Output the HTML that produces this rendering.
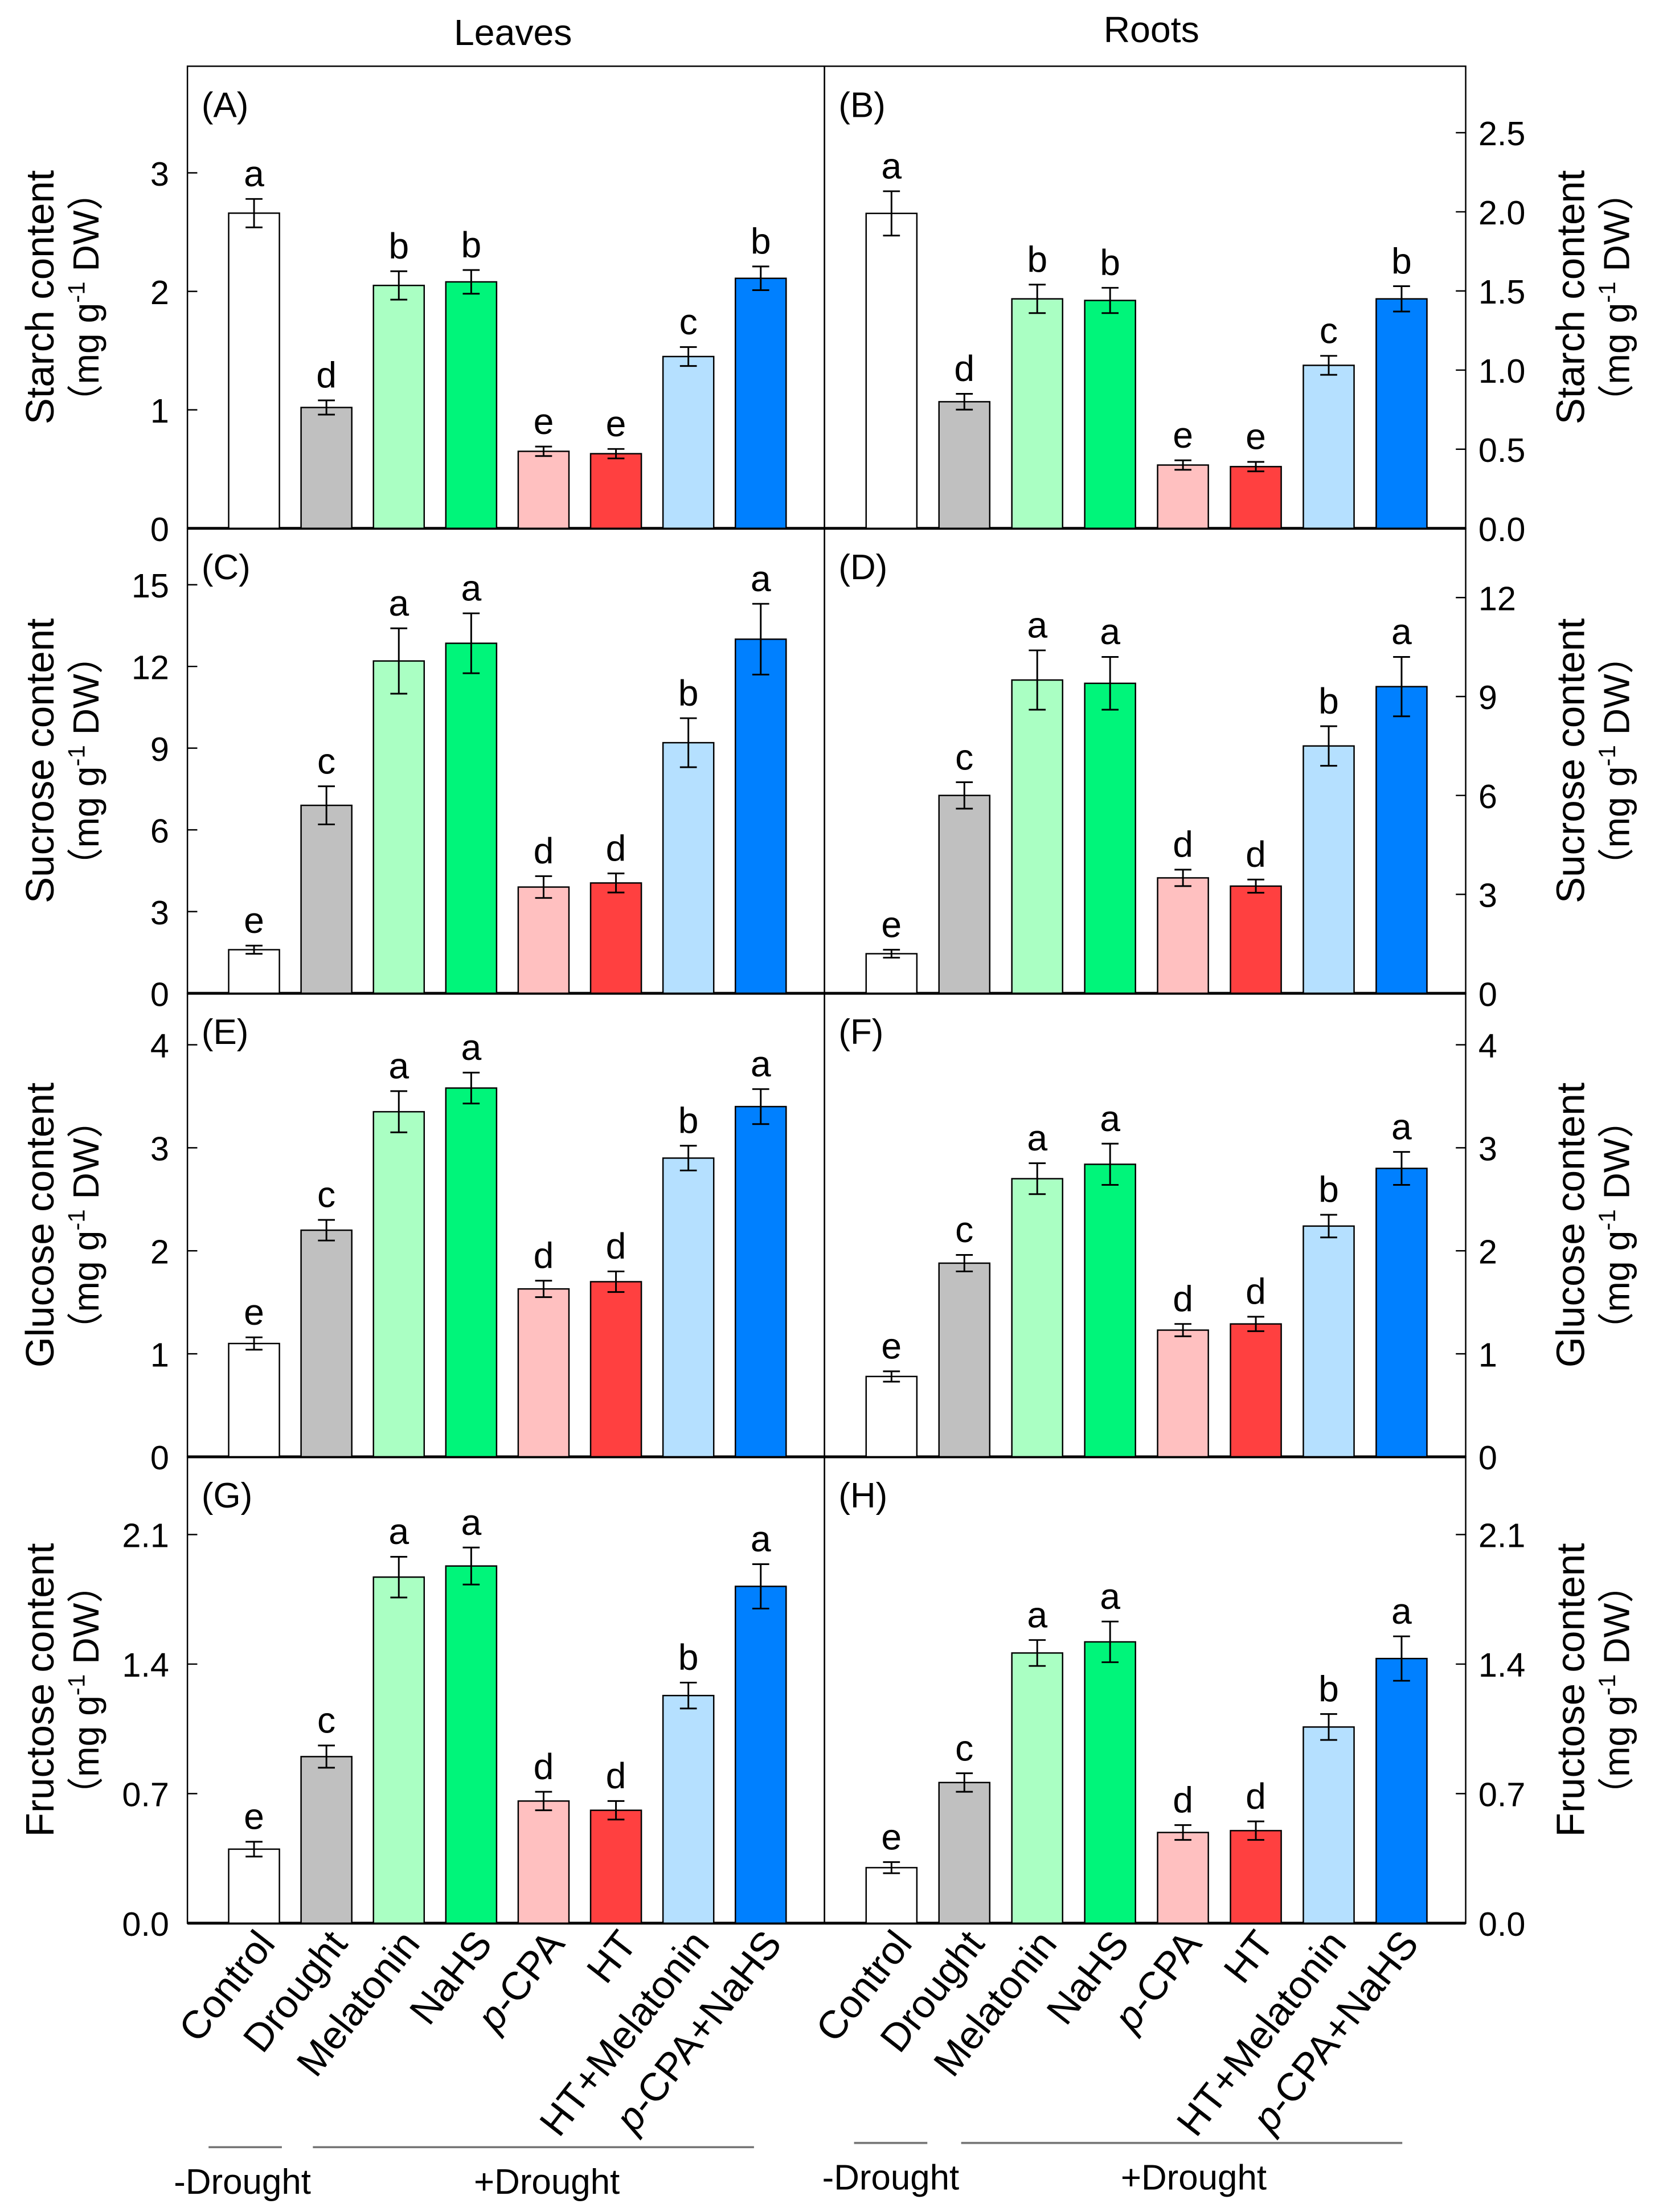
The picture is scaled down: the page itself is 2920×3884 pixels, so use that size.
<!DOCTYPE html>
<html><head><meta charset="utf-8"><style>
html,body{margin:0;padding:0;background:#fff;}
svg{display:block;font-family:"Liberation Sans","Noto Sans CJK SC",sans-serif;}
</style></head><body>
<svg id="chart" width="2920" height="3884" viewBox="0 0 1180 1570" preserveAspectRatio="none" xmlns="http://www.w3.org/2000/svg">
<g id="root"></g>
</svg>
<script>
const categories = ["Control","Drought","Melatonin","NaHS","p-CPA","HT","HT+Melatonin","p-CPA+NaHS"];
const colors = ["#ffffff","#c0c0c0","#aaffc3","#00f57a","#ffc0c0","#ff4040","#b5e0ff","#0080ff"];
const starchLeaves = [2.66,1.02,2.05,2.08,0.65,0.63,1.45,2.11];
const starchLeavesErr = [0.12,0.06,0.12,0.10,0.04,0.04,0.08,0.10];
const starchLeavesSig = ["a","d","b","b","e","e","c","b"];
const starchRoots = [1.99,0.80,1.45,1.44,0.40,0.39,1.03,1.45];
const starchRootsErr = [0.14,0.05,0.09,0.08,0.03,0.03,0.06,0.08];
const starchRootsSig = ["a","d","b","b","e","e","c","b"];
const sucroseLeaves = [1.6,6.9,12.2,12.85,3.9,4.05,9.2,13.0];
const sucroseLeavesErr = [0.15,0.7,1.2,1.1,0.4,0.35,0.9,1.3];
const sucroseLeavesSig = ["e","c","a","a","d","d","b","a"];
const sucroseRoots = [1.2,6.0,9.5,9.4,3.5,3.25,7.5,9.3];
const sucroseRootsErr = [0.12,0.4,0.9,0.8,0.25,0.2,0.6,0.9];
const sucroseRootsSig = ["e","c","a","a","d","d","b","a"];
const glucoseLeaves = [1.1,2.2,3.35,3.58,1.63,1.7,2.9,3.4];
const glucoseLeavesErr = [0.06,0.1,0.2,0.15,0.08,0.1,0.12,0.17];
const glucoseLeavesSig = ["e","c","a","a","d","d","b","a"];
const glucoseRoots = [0.78,1.88,2.7,2.84,1.23,1.29,2.24,2.8];
const glucoseRootsErr = [0.05,0.08,0.15,0.2,0.06,0.07,0.11,0.16];
const glucoseRootsSig = ["e","c","a","a","d","d","b","a"];
const fructoseLeaves = [0.4,0.9,1.87,1.93,0.66,0.61,1.23,1.82];
const fructoseLeavesErr = [0.04,0.06,0.11,0.1,0.05,0.05,0.07,0.12];
const fructoseLeavesSig = ["e","c","a","a","d","d","b","a"];
const fructoseRoots = [0.3,0.76,1.46,1.52,0.49,0.5,1.06,1.43];
const fructoseRootsErr = [0.03,0.05,0.07,0.11,0.04,0.05,0.07,0.12];
const fructoseRootsSig = ["e","c","a","a","d","d","b","a"];
const ticksStarchL = ["0","1","2","3"];
const ticksStarchR = ["0.0","0.5","1.0","1.5","2.0","2.5"];
const ticksSucroseL = ["0","3","6","9","12","15"];
const ticksSucroseR = ["0","3","6","9","12"];
const ticksGlucose = ["0","1","2","3","4"];
const ticksFructose = ["0.0","0.7","1.4","2.1"];

const NS="http://www.w3.org/2000/svg";
const root=document.getElementById('root');
function mk(tag,attrs,parent,text){const e=document.createElementNS(NS,tag);for(const k in attrs)e.setAttribute(k,attrs[k]);if(text!==undefined)e.textContent=text;(parent||root).appendChild(e);return e;}

const X0=133, XM=585, X1=1040;
const rows=[47,375,705,1034,1365];
const panels=[
 {id:"A",side:"L",row:0,vals:starchLeaves,err:starchLeavesErr,sig:starchLeavesSig,ticks:ticksStarchL,max:3.9,title:"Starch content"},
 {id:"B",side:"R",row:0,vals:starchRoots,err:starchRootsErr,sig:starchRootsSig,ticks:ticksStarchR,max:2.92,title:"Starch content"},
 {id:"C",side:"L",row:1,vals:sucroseLeaves,err:sucroseLeavesErr,sig:sucroseLeavesSig,ticks:ticksSucroseL,max:17.07,title:"Sucrose content"},
 {id:"D",side:"R",row:1,vals:sucroseRoots,err:sucroseRootsErr,sig:sucroseRootsSig,ticks:ticksSucroseR,max:14.1,title:"Sucrose content"},
 {id:"E",side:"L",row:2,vals:glucoseLeaves,err:glucoseLeavesErr,sig:glucoseLeavesSig,ticks:ticksGlucose,max:4.5,title:"Glucose content"},
 {id:"F",side:"R",row:2,vals:glucoseRoots,err:glucoseRootsErr,sig:glucoseRootsSig,ticks:ticksGlucose,max:4.5,title:"Glucose content"},
 {id:"G",side:"L",row:3,vals:fructoseLeaves,err:fructoseLeavesErr,sig:fructoseLeavesSig,ticks:ticksFructose,max:2.52,title:"Fructose content"},
 {id:"H",side:"R",row:3,vals:fructoseRoots,err:fructoseRootsErr,sig:fructoseRootsSig,ticks:ticksFructose,max:2.52,title:"Fructose content"}
];

panels.forEach(p=>{
 const top=rows[p.row], bot=rows[p.row+1];
 const left=p.side==="L"?X0:XM, right=p.side==="L"?XM:X1;
 const y=v=>bot-(v/p.max)*(bot-top);
 const step=(right-left)/8.8;
 const x=i=>left+step*(0.92+i);
 const g=mk('g',{});
 
 
 const fr=mk('rect',{x:left,y:top,width:right-left,height:bot-top,fill:'none',stroke:'#000','stroke-width':1},g);
 
 
 mk('line',{x1:left,x2:right,y1:bot,y2:bot,stroke:'#000','stroke-width':2},g);
 const pl=mk('text',{x:left+10,y:top+36,'font-size':25},g,'('+p.id+')');
 
 
 p.vals.forEach((v,i)=>{
  const bw=36;
  const r=mk('rect',{x:x(i)-bw/2,y:y(v),width:bw,height:bot-y(v),fill:colors[i],stroke:'#000','stroke-width':1},g);
  
  
  const e=p.err[i];
  const eg=mk('g',{stroke:'#000','stroke-width':1.2},g);
  
  
  mk('line',{x1:x(i),x2:x(i),y1:y(v+e),y2:y(v-e)},eg);
  mk('line',{x1:x(i)-6,x2:x(i)+6,y1:y(v+e),y2:y(v+e)},eg);
  mk('line',{x1:x(i)-6,x2:x(i)+6,y1:y(v-e),y2:y(v-e)},eg);
  const t=mk('text',{x:x(i),y:y(v+e)-9,'font-size':26,'text-anchor':'middle'},g,p.sig[i]);
  
  
 });
 p.ticks.forEach(tk=>{
  const v=parseFloat(tk), ty=y(v);
  if(p.side==="L"){
   mk('line',{x1:X0,x2:X0+7,y1:ty,y2:ty,stroke:'#000','stroke-width':1},g);
   const t=mk('text',{x:X0-13,y:ty+9,'font-size':24,'text-anchor':'end'},g,tk);
   
   
  } else {
   mk('line',{x1:X1-7,x2:X1,y1:ty,y2:ty,stroke:'#000','stroke-width':1},g);
   const t=mk('text',{x:X1+9,y:ty+9,'font-size':24,'text-anchor':'start'},g,tk);
   
   
  }
 });
 const cy=(top+bot)/2;
 const tx=p.side==="L"?38:1124;
 const t1=mk('text',{x:tx,y:cy,'font-size':28,'text-anchor':'middle',transform:`rotate(-90 ${tx} ${cy})`},g,p.title);
 
 
 const t2=mk('text',{x:tx+32,y:cy,'font-size':26,'text-anchor':'middle',transform:`rotate(-90 ${tx+32} ${cy})`},g);
 
 
 mk('tspan',{},t2,'（mg g');
 mk('tspan',{dy:-10,'font-size':17},t2,'-1');
 mk('tspan',{dy:10},t2,' DW）');
});

// x labels
[X0,XM].forEach((left,si)=>{
 const step=(452)/8.8;
 categories.forEach((c,i)=>{
  const cx=left+step*(0.92+i)+16, cy=1380;
  const t=mk('text',{x:cx,y:cy,'font-size':28,'text-anchor':'end',transform:`rotate(-52 ${cx} ${cy})`});
  
  
  if(c.startsWith('p-')){mk('tspan',{'font-style':'italic'},t,'p');mk('tspan',{},t,c.slice(1));}
  else t.textContent=c;
 });
});
// group lines and labels
[[148,200,222,535,1524,172,388],[606,658,682,995,1521,632,847]].forEach(a=>{
 mk('line',{x1:a[0],x2:a[1],y1:a[4],y2:a[4],stroke:'#777','stroke-width':1.5});
 mk('line',{x1:a[2],x2:a[3],y1:a[4],y2:a[4],stroke:'#777','stroke-width':1.5});
 const t1=mk('text',{x:a[5],y:a[4]+33,'font-size':25,'text-anchor':'middle'},root,'-Drought');
 
 
 const t2=mk('text',{x:a[6],y:a[4]+33,'font-size':25,'text-anchor':'middle'},root,'+Drought');
 
 
});
const lv=mk('text',{x:364,y:32,'font-size':26,'text-anchor':'middle'},root,'Leaves');


const rt=mk('text',{x:817,y:30,'font-size':26,'text-anchor':'middle'},root,'Roots');


</script>
</body></html>
